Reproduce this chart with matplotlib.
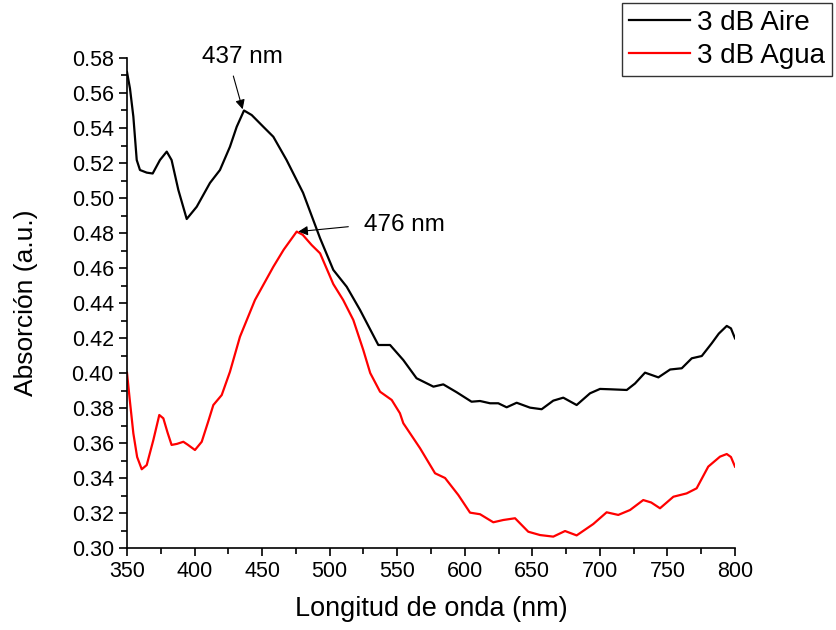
import numpy as np
import matplotlib.pyplot as plt
from matplotlib.ticker import MultipleLocator

plt.rcParams['font.family'] = ['Liberation Sans', 'DejaVu Sans']

# 3 dB Aire (black)
aire_x = [350, 352.2, 354.7, 357.2, 359.6, 364.6, 369, 374.4, 379.4, 383, 388, 394.2,
          401.6, 411.4, 418.8, 426.2, 431.2, 436.6, 442.3, 450.9, 458.3, 468.1, 480.3,
          492.9, 502.7, 512.6, 522.5, 536, 544.7, 554.5, 564.3, 576.8, 584.1, 594,
          605, 611.3, 618.7, 624.8, 631, 638.4, 648.3, 656.9, 665.5, 672.9, 682.8,
          692.7, 700.1, 707.5, 719.9, 726, 733.4, 743.3, 752, 760.6, 768, 775.4,
          782.8, 788, 793.9, 797, 800]
aire_y = [0.572, 0.5626, 0.5465, 0.5217, 0.516, 0.5145, 0.514, 0.5217, 0.5265, 0.5217,
          0.5046, 0.488, 0.495, 0.5086, 0.516, 0.5293, 0.5407, 0.550, 0.5474, 0.5407,
          0.535, 0.5217, 0.503, 0.477, 0.4589, 0.4493, 0.436, 0.416, 0.416, 0.4074,
          0.397, 0.3922, 0.3935, 0.389, 0.3836, 0.384, 0.3827, 0.3827, 0.3804, 0.383,
          0.3802, 0.3793, 0.3842, 0.3859, 0.3817, 0.3884, 0.3909, 0.3907, 0.3903,
          0.394, 0.4002, 0.3975, 0.402, 0.4027, 0.4084, 0.4097, 0.417, 0.4225,
          0.4269, 0.4255, 0.4198]

# 3 dB Agua (red)
agua_x = [350, 352, 354.7, 357.5, 360.9, 364.6, 369.5, 373.9, 376.9, 380, 383, 387,
          391.7, 395, 400.3, 405.3, 410, 413.9, 420.1, 426.2, 433.6, 444.7, 458.3,
          466, 475.6, 480, 486.7, 492.9, 502.7, 510, 517.5, 524.9, 530, 537.3, 545.9,
          552, 554.5, 566.9, 578, 585.4, 595.2, 603.9, 611.3, 621.1, 628.5, 637.2,
          647, 655.7, 665.5, 674.2, 682.8, 695.1, 705, 713.6, 722.3, 732.1, 738,
          744.5, 754.4, 764.2, 771.6, 780.2, 788.9, 793.9, 797, 800]
agua_y = [0.4002, 0.385, 0.3655, 0.352, 0.345, 0.3474, 0.3617, 0.376, 0.3741, 0.366,
          0.3589, 0.3595, 0.3607, 0.359, 0.356, 0.3607, 0.372, 0.3817, 0.3874, 0.4007,
          0.4207, 0.4417, 0.4607, 0.4705, 0.4808, 0.479, 0.4731, 0.4684, 0.4508,
          0.4417, 0.4303, 0.4131, 0.400, 0.3893, 0.3846, 0.377, 0.3713, 0.357, 0.3427,
          0.340, 0.3303, 0.3202, 0.3193, 0.3147, 0.316, 0.317, 0.3093, 0.3074, 0.3065,
          0.3097, 0.3072, 0.3137, 0.3204, 0.3189, 0.3217, 0.3274, 0.326, 0.3227,
          0.3293, 0.3312, 0.3341, 0.3465, 0.3522, 0.3537, 0.352, 0.3465]

# peak annotations: label, peak (x, y), arrow tail (x, y), text centre (x, y)
peaks = [('437 nm', (435.6, 0.5507), (428.7, 0.5697), (435.3, 0.5805)),
         ('476 nm', (476.8, 0.4808), (513.8, 0.4836), (555.0, 0.4846))]

fig = plt.figure(figsize=(8.37, 6.3), dpi=100)
ax = fig.add_axes([127 / 837, 1 - 548 / 630, 608 / 837, 490 / 630])

l1, = ax.plot(aire_x, aire_y, color='black', lw=1.6, label='3 dB Aire')
l2, = ax.plot(agua_x, agua_y, color='red', lw=1.6, label='3 dB Agua')

ax.set_xlim(350, 800)
ax.set_ylim(0.30, 0.58)
ax.xaxis.set_major_locator(MultipleLocator(50))
ax.xaxis.set_minor_locator(MultipleLocator(25))
ax.yaxis.set_major_locator(MultipleLocator(0.02))
ax.yaxis.set_minor_locator(MultipleLocator(0.01))
ax.yaxis.set_major_formatter(plt.FuncFormatter(lambda v, p: f'{v:.2f}'))
ax.tick_params(which='both', direction='out', width=1.2, labelsize=15.5)
ax.tick_params(which='major', length=6)
ax.tick_params(which='minor', length=4)
for s in ['top', 'right']:
    ax.spines[s].set_visible(False)
for s in ['left', 'bottom']:
    ax.spines[s].set_linewidth(1.2)

ax.set_xlabel('Longitud de onda (nm)', fontsize=19.5, labelpad=10)
ax.set_ylabel('Absorción (a.u.)', fontsize=19, labelpad=24)

for label, head, tail, pos in peaks:
    ax.annotate('', xy=head, xytext=tail,
                arrowprops=dict(arrowstyle='-|>', color='black', lw=0.8,
                                shrinkA=0, shrinkB=0, mutation_scale=14))
    ax.text(pos[0], pos[1], label, ha='center', va='center', fontsize=17.5,
            clip_on=False)

leg = fig.legend(handles=[l1, l2], loc='upper left',
                 bbox_to_anchor=(622 / 837, 1 - 3 / 630), borderaxespad=0,
                 fontsize=20, frameon=True, fancybox=False, handlelength=2.2,
                 handletextpad=0.25, borderpad=0.25, labelspacing=0.25)
leg.get_frame().set_edgecolor('black')
leg.get_frame().set_linewidth(1.0)

fig.savefig('out.png', dpi=100)
